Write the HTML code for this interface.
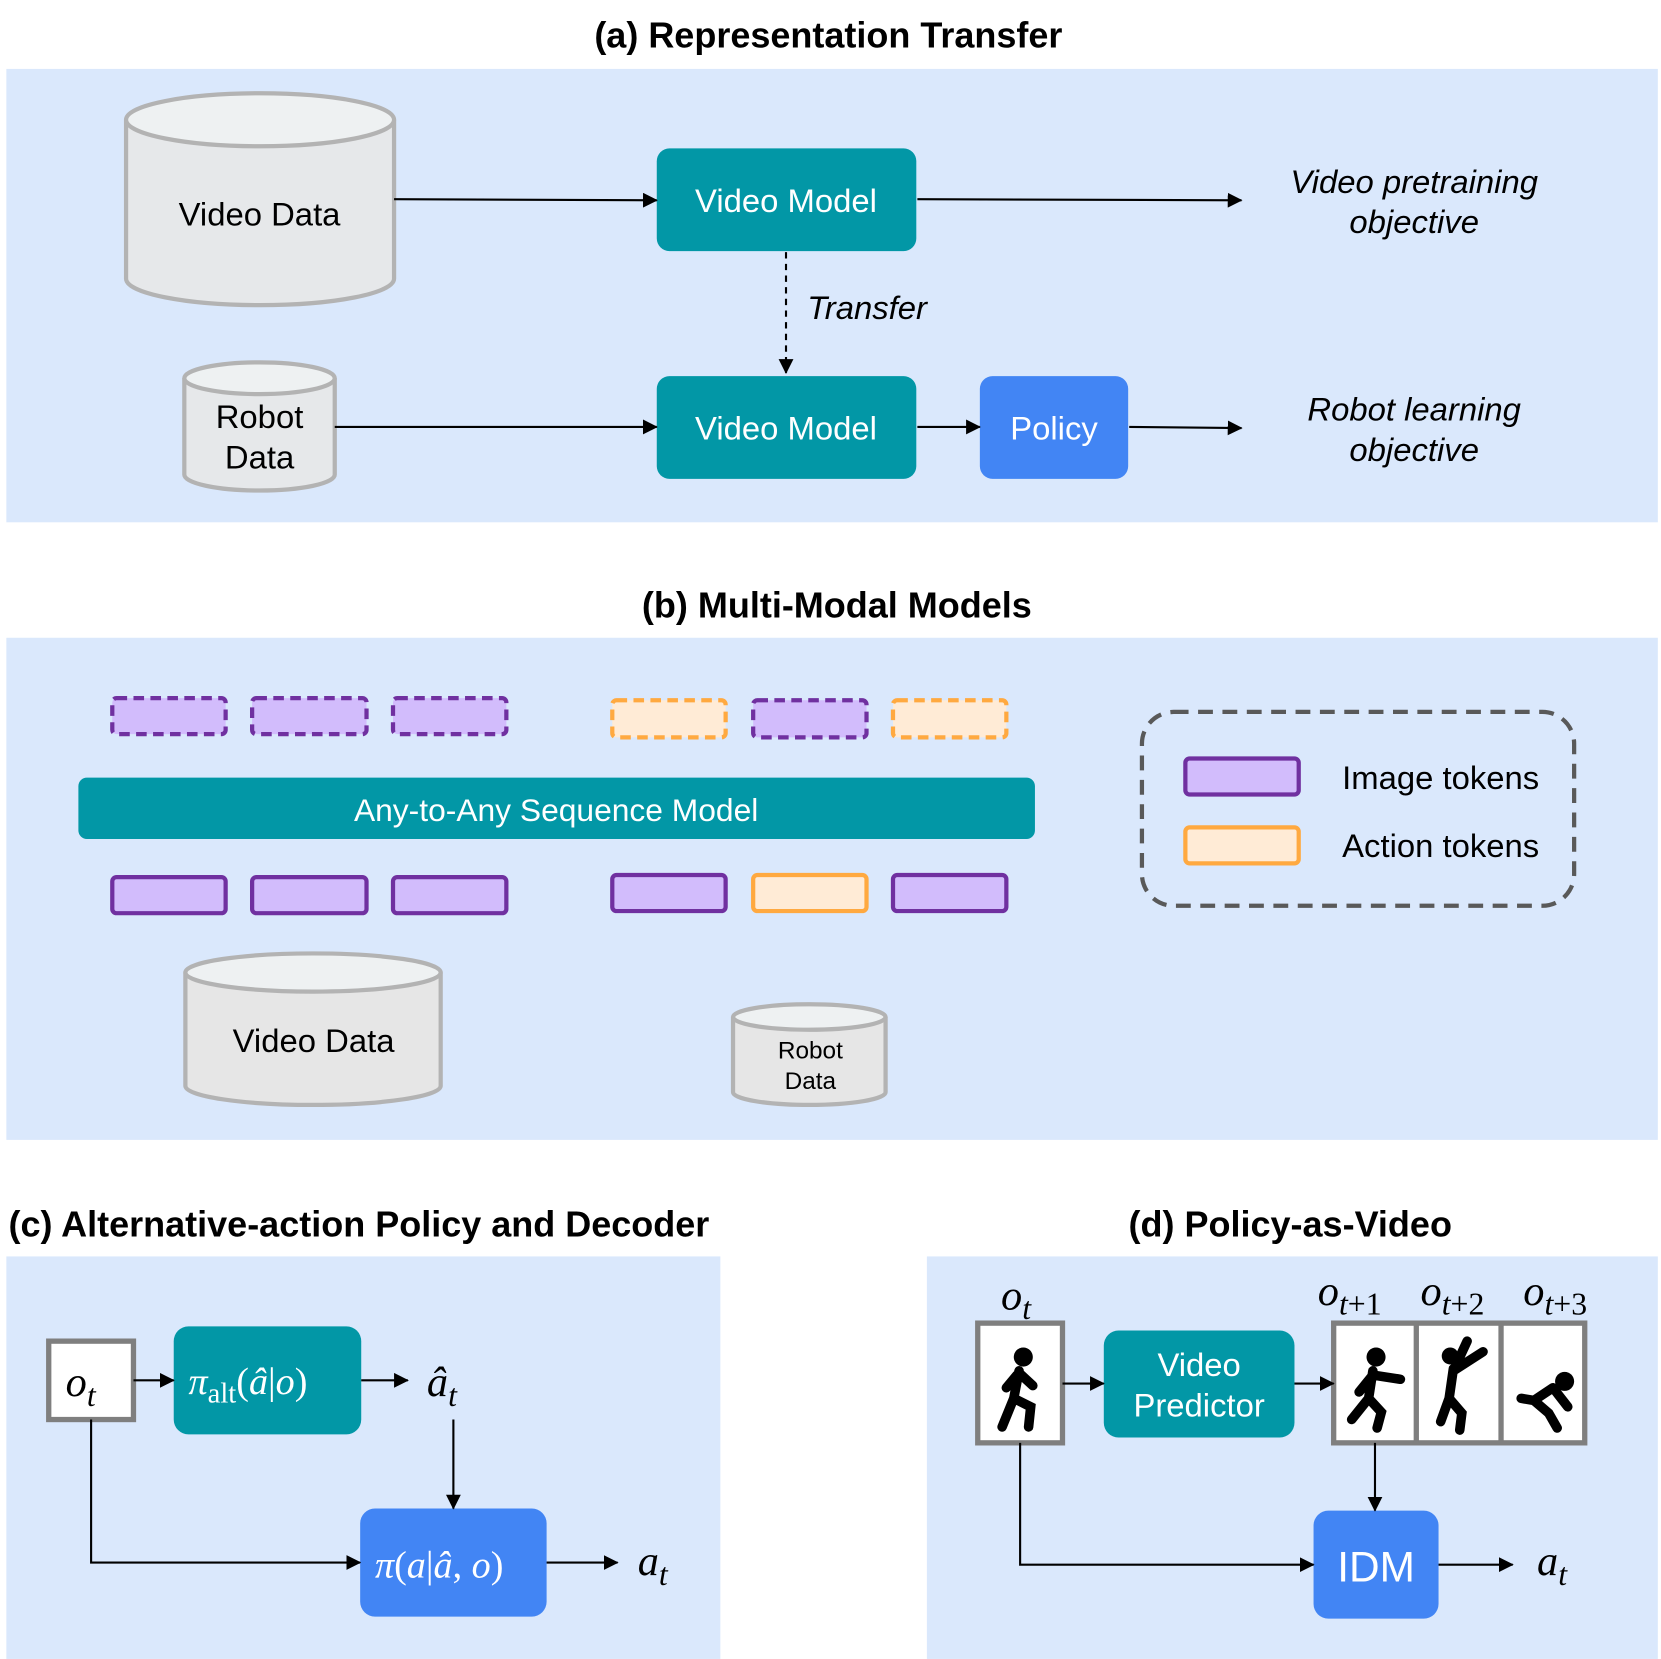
<!DOCTYPE html>
<html><head><meta charset="utf-8"><style>html,body{margin:0;padding:0;background:#fff}svg{display:block}</style></head>
<body>
<svg width="1661" height="1659" viewBox="0 0 1568 1566" xmlns="http://www.w3.org/2000/svg" font-family="Liberation Sans, sans-serif">
<defs>
<marker id="ar2" markerWidth="14" markerHeight="14" refX="13" refY="7" orient="auto" markerUnits="userSpaceOnUse" viewBox="0 0 14 14"><path d="M0,0 L14,7 L0,14 z" fill="#000"/></marker>
</defs>
<g font-weight="bold" font-size="34" text-anchor="middle" fill="#000">
<text x="782" y="45">(a) Representation Transfer</text>
<text x="790" y="583">(b) Multi-Modal Models</text>
<text x="8" y="1167" text-anchor="start">(c) Alternative-action Policy and Decoder</text>
<text x="1218" y="1167">(d) Policy-as-Video</text>
</g>
<rect x="6" y="65" width="1559" height="428" fill="#dae8fc"/>
<rect x="6" y="602" width="1559" height="474" fill="#dae8fc"/>
<rect x="6" y="1186" width="674" height="380" fill="#dae8fc"/>
<rect x="875" y="1186" width="690" height="380" fill="#dae8fc"/>

<!-- (a) -->
<g stroke="#b3b3b3" stroke-width="4">
<path d="M119,113 V263 A126.5,25 0 0 0 372,263 V113" fill="#e6e8ea"/>
<ellipse cx="245.5" cy="113" rx="126.5" ry="25" fill="#eef1f2"/>
<path d="M174,357 V448 A71,15 0 0 0 316,448 V357" fill="#e6e8ea"/>
<ellipse cx="245" cy="357" rx="71" ry="15" fill="#eef1f2"/>
</g>
<g font-size="31" text-anchor="middle">
<text x="245" y="213">Video Data</text>
<text x="245" y="404">Robot</text>
<text x="245" y="442">Data</text>
</g>
<rect x="620" y="140" width="245" height="97" rx="12" fill="#0297a6"/>
<rect x="620" y="355" width="245" height="97" rx="12" fill="#0297a6"/>
<rect x="925" y="355" width="140" height="97" rx="12" fill="#4285f4"/>
<g font-size="31" fill="#fff" text-anchor="middle">
<text x="742" y="200">Video Model</text>
<text x="742" y="415">Video Model</text>
<text x="995" y="415">Policy</text>
</g>
<g stroke="#000" stroke-width="2" fill="none" marker-end="url(#ar2)">
<line x1="372" y1="188" x2="620" y2="189"/>
<line x1="866" y1="188" x2="1172" y2="189"/>
<line x1="316" y1="403" x2="620" y2="403"/>
<line x1="866" y1="403" x2="925" y2="403"/>
<line x1="1066" y1="403" x2="1172" y2="404"/>
<line x1="742" y1="238" x2="742" y2="352" stroke-dasharray="6,5"/>
</g>
<g font-size="31" font-style="italic" text-anchor="middle">
<text x="1335" y="182">Video pretraining</text>
<text x="1335" y="220">objective</text>
<text x="1335" y="397">Robot learning</text>
<text x="1335" y="435">objective</text>
<text x="762" y="301" text-anchor="start">Transfer</text>
</g>

<!-- (b) -->
<g stroke-width="4">
<g stroke="#7030a0" fill="#d2bcfc" stroke-dasharray="10,6">
<rect x="106" y="659" width="107" height="34" rx="4"/>
<rect x="238" y="659" width="108" height="34" rx="4"/>
<rect x="371" y="659" width="107" height="34" rx="4"/>
<rect x="711" y="661" width="107" height="35" rx="4"/>
</g>
<g stroke="#ffa940" fill="#ffebd6" stroke-dasharray="10,6">
<rect x="578" y="661" width="107" height="35" rx="4"/>
<rect x="843" y="661" width="107" height="35" rx="4"/>
</g>
<g stroke="#7030a0" fill="#d2bcfc">
<rect x="106" y="828" width="107" height="34" rx="4"/>
<rect x="238" y="828" width="108" height="34" rx="4"/>
<rect x="371" y="828" width="107" height="34" rx="4"/>
<rect x="578" y="826" width="107" height="34" rx="4"/>
<rect x="843" y="826" width="107" height="34" rx="4"/>
<rect x="1119" y="716" width="107" height="34" rx="4"/>
</g>
<g stroke="#ffa940" fill="#ffebd6">
<rect x="711" y="826" width="107" height="34" rx="4"/>
<rect x="1119" y="781" width="107" height="34" rx="4"/>
</g>
<rect x="1078" y="672" width="408" height="183" rx="30" fill="none" stroke="#595959" stroke-dasharray="14,9"/>
</g>
<rect x="74" y="734" width="903" height="58" rx="8" fill="#0297a6"/>
<text x="525" y="775" font-size="30" fill="#fff" text-anchor="middle">Any-to-Any Sequence Model</text>
<g font-size="31">
<text x="1267" y="745">Image tokens</text>
<text x="1267" y="809">Action tokens</text>
</g>
<g stroke="#b3b3b3" stroke-width="4">
<path d="M175,918 V1025 A120.5,18 0 0 0 416,1025 V918" fill="#e6e6e6"/>
<ellipse cx="295.5" cy="918" rx="120.5" ry="18" fill="#eef1f2"/>
<path d="M692,960 V1031 A72,12 0 0 0 836,1031 V960" fill="#e6e6e6"/>
<ellipse cx="764" cy="960" rx="72" ry="12" fill="#eef1f2"/>
</g>
<text x="296" y="993" font-size="31" text-anchor="middle">Video Data</text>
<text x="765" y="999" font-size="23" text-anchor="middle">Robot</text>
<text x="765" y="1028" font-size="23" text-anchor="middle">Data</text>

<!-- (c) -->
<rect x="46" y="1266" width="80" height="74" fill="#fff" stroke="#7f7f7f" stroke-width="5"/>
<rect x="164" y="1252" width="177" height="102" rx="14" fill="#0297a6"/>
<rect x="340" y="1424" width="176" height="102" rx="14" fill="#4285f4"/>
<g font-family="Liberation Serif, serif" font-style="italic">
<text x="62" y="1318" font-size="40">o<tspan font-size="30" dy="9">t</tspan></text>
<text x="178" y="1316" font-size="36" fill="#fff">π<tspan font-style="normal" font-size="27" dy="8">alt</tspan><tspan dy="-8" font-style="normal">(</tspan>â<tspan font-style="normal">|</tspan>o<tspan font-style="normal">)</tspan></text>
<text x="403" y="1318" font-size="40">â<tspan font-size="30" dy="9">t</tspan></text>
<text x="354" y="1489" font-size="36" fill="#fff">π<tspan font-style="normal">(</tspan>a<tspan font-style="normal">|</tspan>â<tspan font-style="normal">, </tspan>o<tspan font-style="normal">)</tspan></text>
<text x="602" y="1487" font-size="40">a<tspan font-size="30" dy="9">t</tspan></text>
</g>
<g stroke="#000" stroke-width="2" fill="none" marker-end="url(#ar2)">
<line x1="126" y1="1303" x2="164" y2="1303"/>
<line x1="341" y1="1303" x2="385" y2="1303"/>
<line x1="428" y1="1340" x2="428" y2="1424"/>
<polyline points="86,1340 86,1475 340,1475"/>
<line x1="516" y1="1475" x2="583" y2="1475"/>
</g>

<!-- (d) -->
<rect x="923" y="1249" width="80" height="113" fill="#fff" stroke="#7f7f7f" stroke-width="5"/>
<rect x="1259" y="1249" width="237" height="113" fill="#fff" stroke="#7f7f7f" stroke-width="5"/>
<line x1="1337" y1="1249" x2="1337" y2="1362" stroke="#7f7f7f" stroke-width="5"/>
<line x1="1417" y1="1249" x2="1417" y2="1362" stroke="#7f7f7f" stroke-width="5"/>
<rect x="1042" y="1256" width="180" height="101" rx="14" fill="#0297a6"/>
<rect x="1240" y="1426" width="118" height="102" rx="14" fill="#4285f4"/>
<text x="1132" y="1299" font-size="31" fill="#fff" text-anchor="middle">Video</text>
<text x="1132" y="1337" font-size="31" fill="#fff" text-anchor="middle">Predictor</text>
<text x="1299" y="1493" font-size="40" fill="#fff" text-anchor="middle">IDM</text>
<g fill="#000" stroke="#000" stroke-linecap="round" stroke-width="9">
<circle cx="966" cy="1281" r="9" stroke="none"/>
<path d="M962,1294 L957,1320 L946,1347 M957,1320 L973,1328 L971,1347 M962,1296 L975,1308 M960,1298 L950,1310" fill="none"/>
<circle cx="1299" cy="1281" r="9" stroke="none"/>
<path d="M1296,1294 L1292,1320 L1276,1340 M1292,1320 L1304,1333 L1300,1348 M1296,1298 L1322,1302 M1296,1298 L1283,1314" fill="none"/>
<circle cx="1369" cy="1280" r="8" stroke="none"/>
<path d="M1372,1292 L1368,1320 L1360,1342 M1368,1320 L1380,1334 L1378,1350 M1372,1294 L1385,1266 M1372,1294 L1400,1276" fill="none"/>
<circle cx="1477" cy="1304" r="9" stroke="none"/>
<path d="M1466,1310 L1448,1322 L1436,1320 M1448,1322 L1462,1334 L1470,1348 M1466,1310 L1480,1328" fill="none"/>
</g>
<g font-family="Liberation Serif, serif" font-style="italic" font-size="40">
<text x="945" y="1236">o<tspan font-size="30" dy="9">t</tspan></text>
<text x="1244" y="1232">o<tspan font-size="30" dy="9" font-style="normal"><tspan font-style="italic">t</tspan>+1</tspan></text>
<text x="1341" y="1232">o<tspan font-size="30" dy="9" font-style="normal"><tspan font-style="italic">t</tspan>+2</tspan></text>
<text x="1438" y="1232">o<tspan font-size="30" dy="9" font-style="normal"><tspan font-style="italic">t</tspan>+3</tspan></text>
<text x="1451" y="1487">a<tspan font-size="30" dy="9">t</tspan></text>
</g>
<g stroke="#000" stroke-width="2" fill="none" marker-end="url(#ar2)">
<line x1="1003" y1="1306" x2="1042" y2="1306"/>
<line x1="1222" y1="1306" x2="1259" y2="1306"/>
<line x1="1298" y1="1362" x2="1298" y2="1426"/>
<polyline points="963,1362 963,1477 1240,1477"/>
<line x1="1358" y1="1477" x2="1428" y2="1477"/>
</g>
</svg>
</body></html>
